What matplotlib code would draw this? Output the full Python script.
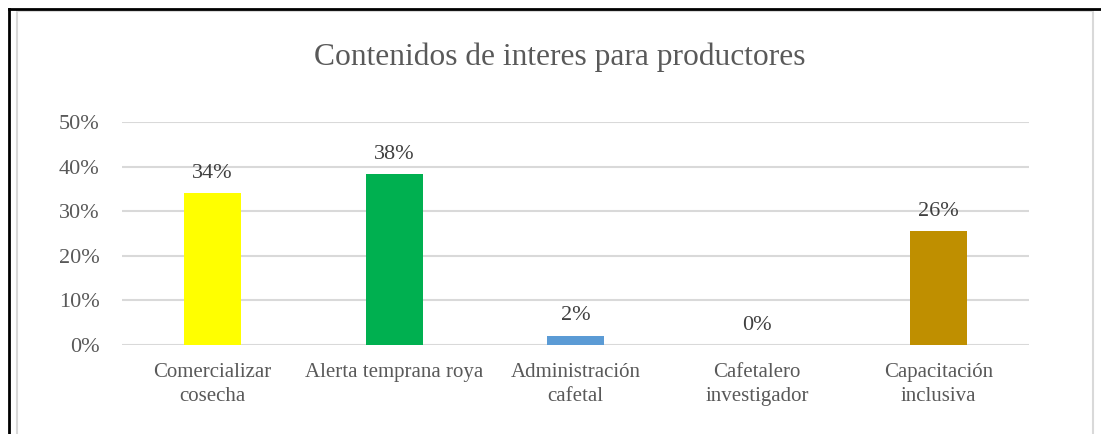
import numpy as np
import matplotlib.pyplot as plt
from matplotlib.lines import Line2D

categorias = ["Comercializar\ncosecha", "Alerta temprana roya", "Administración\ncafetal",
              "Cafetalero\ninvestigador", "Capacitación\ninclusiva"]
valores = [0.34, 0.383, 0.021, 0.0, 0.255]
etiquetas = ["34%", "38%", "2%", "0%", "26%"]
colores = ["#FFFF00", "#00B050", "#5B9BD5", "#5B9BD5", "#BF8F00"]
ticks = [0, 0.1, 0.2, 0.3, 0.4, 0.5]

plt.rcParams['font.family'] = ['Liberation Serif', 'DejaVu Serif']

W, H = 1101, 434
fig = plt.figure(figsize=(W / 100, H / 100), dpi=100)
ax = fig.add_axes([122 / W, 1 - 345 / H, (1029 - 122) / W, (345 - 122) / H])

x = np.arange(len(categorias))
ax.bar(x, valores, width=0.314, color=colores, zorder=3)
ax.set_xlim(-0.5, len(categorias) - 0.5)
ax.set_ylim(0, 0.5)
ax.set_yticks(ticks)
ax.set_yticklabels([f"{int(round(t * 100))}%" for t in ticks])
ax.set_xticks(x)
ax.set_xticklabels(categorias, linespacing=1.32, fontsize=15)
ax.grid(axis='y', color='#D9D9D9', linewidth=1.5, zorder=0)
for s in ax.spines.values():
    s.set_visible(False)
ax.tick_params(length=0, labelcolor='#595959')
ax.tick_params(axis='y', pad=16, labelsize=16)
ax.tick_params(axis='x', pad=13)

for xi, v, t in zip(x, valores, etiquetas):
    ax.annotate(t, (xi, v), xytext=(0, 11), textcoords='offset points',
                ha='center', va='baseline', fontsize=16, color='#404040')

fig.text(560 / W, 1 - 65 / H, "Contenidos de interes para productores",
         ha='center', va='baseline', fontsize=22.7, color='#595959')

# marco del grafico
fig.add_artist(plt.Rectangle((17 / W, -0.1), (1093 - 17) / W, 1.1 - 11 / H,
                             transform=fig.transFigure, fill=False,
                             edgecolor='#D9D9D9', linewidth=1.5))
fig.add_artist(Line2D([9 / W, 1], [1 - 9 / H, 1 - 9 / H], transform=fig.transFigure,
                      color='black', linewidth=2))
fig.add_artist(Line2D([9 / W, 9 / W], [0, 1 - 9 / H], transform=fig.transFigure,
                      color='black', linewidth=2))

fig.savefig("out.png", dpi=100)
